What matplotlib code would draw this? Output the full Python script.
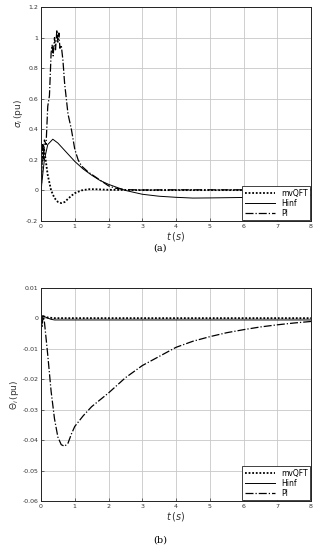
import matplotlib.pyplot as plt
import numpy as np

# ---- panel (a): sigma_i ----
t_qft_a = [0, 0.03, 0.06, 0.1, 0.15, 0.2, 0.3, 0.4, 0.5, 0.6, 0.7, 0.8, 0.9, 1.0, 1.2, 1.4, 1.6, 2.0, 3.0, 4.0, 5.0, 6.0, 7.0, 8.0]
y_qft_a = [0, 0.22, 0.3, 0.26, 0.18, 0.1, 0.0, -0.05, -0.075, -0.083, -0.076, -0.055, -0.035, -0.018, 0.0, 0.008, 0.008, 0.004, 0.002, 0.002, 0.002, 0.002, 0.002, 0.002]

t_hinf_a = [0, 0.05, 0.1, 0.2, 0.35, 0.5, 0.75, 1.0, 1.25, 1.5, 1.75, 2.0, 2.5, 3.0, 3.5, 4.0, 4.5, 5.0, 6.0, 7.0, 8.0]
y_hinf_a = [0, 0.1, 0.2, 0.3, 0.335, 0.31, 0.25, 0.19, 0.14, 0.1, 0.065, 0.04, 0.0, -0.025, -0.038, -0.045, -0.05, -0.049, -0.046, -0.04, -0.03]

t_pi_a = [0, 0.05, 0.08, 0.1, 0.15, 0.2, 0.25, 0.3, 0.33, 0.36, 0.4, 0.43, 0.47, 0.5, 0.53, 0.56, 0.6, 0.65, 0.7, 0.8, 0.9, 1.0, 1.1, 1.2, 1.4, 1.6, 1.8, 2.0, 2.2, 2.5, 3.0, 4.0, 5.0, 6.0, 7.0, 8.0]
y_pi_a = [0, 0.3, 0.2, 0.33, 0.3, 0.55, 0.62, 0.9, 0.95, 0.88, 1.0, 0.92, 1.05, 0.97, 1.03, 0.93, 0.95, 0.85, 0.7, 0.5, 0.4, 0.27, 0.2, 0.16, 0.12, 0.09, 0.06, 0.03, 0.015, 0.005, 0.003, 0.004, 0.004, 0.004, 0.004, 0.004]

# ---- panel (b): theta_i ----
t_qft_b = [0, 0.05, 0.1, 0.2, 0.4, 1.0, 2.0, 4.0, 6.0, 8.0]
y_qft_b = [0, 0.0008, 0.0006, 0.0003, 0.0001, 0.0001, 0.0001, 0.0001, 0.0001, 0.0001]

t_hinf_b = [0, 0.05, 0.1, 0.2, 0.3, 0.4, 1.0, 2.0, 4.0, 6.0, 8.0]
y_hinf_b = [0, 0.0009, 0.0006, 0.0001, -0.0003, -0.0005, -0.0005, -0.0005, -0.0005, -0.0005, -0.0005]

t_pi_b = [0, 0.03, 0.06, 0.1, 0.2, 0.3, 0.4, 0.5, 0.6, 0.7, 0.8, 0.9, 1.0, 1.25, 1.5, 2.0, 2.5, 3.0, 3.5, 4.0, 4.5, 5.0, 5.5, 6.0, 6.5, 7.0, 7.5, 8.0]
y_pi_b = [0, -0.003, 0.0008, -0.001, -0.012, -0.024, -0.033, -0.039, -0.0415, -0.042, -0.041, -0.038, -0.0355, -0.032, -0.029, -0.0245, -0.0195, -0.0155, -0.0125, -0.0095, -0.0075, -0.006, -0.0047, -0.0037, -0.0028, -0.0021, -0.0015, -0.001]

labels = ['mvQFT', 'Hinf', 'PI']

fig = plt.figure(figsize=(3.2, 5.5), dpi=100)
ax1 = fig.add_axes([41/320, 1 - 221/550, 270/320, 214/550])
ax2 = fig.add_axes([41/320, 1 - 501/550, 270/320, 213/550])

def style(ax, yticks, ylabels, ylim):
    ax.set_xlim(0, 8)
    ax.set_ylim(*ylim)
    ax.set_xticks(range(9))
    ax.set_yticks(yticks)
    ax.set_yticklabels(ylabels)
    ax.tick_params(labelsize=4.5, length=2, width=0.5, direction='in', pad=2, colors='#333333')
    ax.grid(True, color='#c8c8c8', linewidth=0.6)
    for s in ax.spines.values():
        s.set_linewidth(0.7)
        s.set_color('#222222')

ax1.plot(t_qft_a, y_qft_a, color='black', linestyle=(0, (1, 1)), linewidth=1.3, label=labels[0])
ax1.plot(t_hinf_a, y_hinf_a, color='black', linestyle='-', linewidth=0.7, label=labels[1])
ax1.plot(t_pi_a, y_pi_a, color='black', linestyle='-.', linewidth=0.9, label=labels[2])
style(ax1, np.arange(-0.2, 1.21, 0.2), ['-0.2', '0', '0.2', '0.4', '0.6', '0.8', '1', '1.2'], (-0.2, 1.2))
ax1.set_ylabel(r'$\sigma_i\,$(pu)', fontsize=6.5, labelpad=1, color='#333333')
ax1.set_xlabel(r'$t\,(s)$', fontsize=7, labelpad=1, color='#333333')

ax2.plot(t_qft_b, y_qft_b, color='black', linestyle=(0, (1, 1)), linewidth=1.3, label=labels[0])
ax2.plot(t_hinf_b, y_hinf_b, color='black', linestyle='-', linewidth=0.7, label=labels[1])
ax2.plot(t_pi_b, y_pi_b, color='black', linestyle='-.', linewidth=0.9, label=labels[2])
style(ax2, np.arange(-0.06, 0.0101, 0.01), ['-0.06', '-0.05', '-0.04', '-0.03', '-0.02', '-0.01', '0', '0.01'], (-0.06, 0.01))
ax2.set_ylabel(r'$\Theta_i\,$(pu)', fontsize=6.5, labelpad=1, color='#333333')
ax2.set_xlabel(r'$t\,(s)$', fontsize=7, labelpad=1, color='#333333')

for ax in (ax1, ax2):
    leg = ax.legend(loc='lower right', fontsize=5.5, handlelength=4, handletextpad=0.8,
                    borderpad=0.3, labelspacing=0.15, borderaxespad=0.1, fancybox=False, framealpha=1)
    leg.get_frame().set_edgecolor('#222222')
    leg.get_frame().set_linewidth(0.6)

fig.text(0.5, 1 - 248/550, '(a)', ha='center', va='center', fontsize=7, family='DejaVu Serif')
fig.text(0.5, 1 - 540/550, '(b)', ha='center', va='center', fontsize=7, family='DejaVu Serif')

fig.savefig('out.png', dpi=100)
